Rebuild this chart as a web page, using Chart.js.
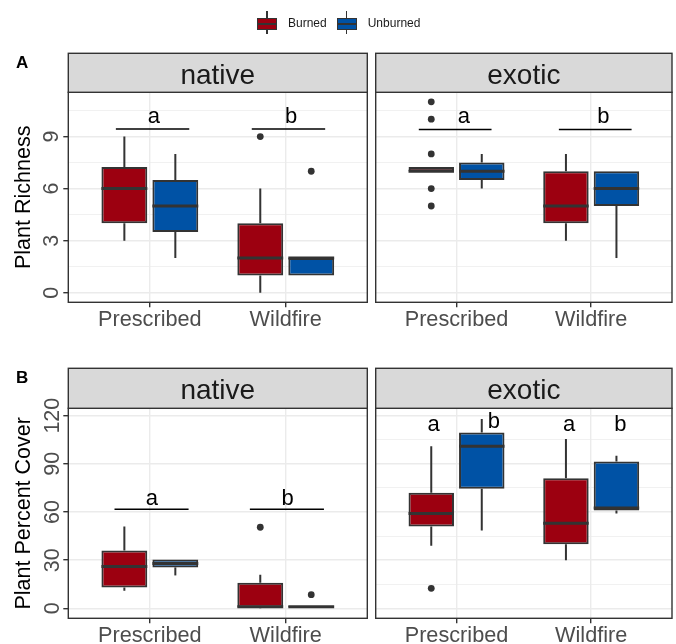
<!DOCTYPE html>
<html>
<head>
<meta charset="utf-8">
<script src="https://cdn.jsdelivr.net/npm/chart.js@4.4.1/dist/chart.umd.min.js"></script>
<style>
  body { margin: 0; background: #fff; font-family: 'Liberation Sans', Arial, sans-serif; }
  #wrap { position: relative; width: 676px; height: 644px; overflow: hidden; background: #fff; }
  #wrap canvas { position: absolute; left: 0; top: 0; }
  .tag { position: absolute; font-weight: bold; font-size: 17px; line-height: 1; color: #000; }
  #legend { position: absolute; top: 11px; left: 257px; height: 23px; display: flex; align-items: center; font-size: 12px; color: #1a1a1a; }
  .key { position: relative; width: 20px; height: 23px; margin-right: 11px; }
  .key .wh { position: absolute; left: 9.3px; top: 0; width: 1.4px; height: 23px; background: #333; }
  .key .bx { position: absolute; left: 0; top: 6.5px; width: 20px; height: 12.5px; box-sizing: border-box; border: 1.4px solid #333; }
  .key .md { position: absolute; left: 0; top: 11.5px; width: 20px; height: 2.5px; background: #333; }
  .lab { margin-right: 10px; }
</style>
</head>
<body>
<div id="wrap">
  <canvas id="pA1" width="676" height="644"></canvas>
  <canvas id="pA2" width="676" height="644"></canvas>
  <canvas id="pB1" width="676" height="644"></canvas>
  <canvas id="pB2" width="676" height="644"></canvas>
  <div class="tag" style="left:16px; top:54px;">A</div>
  <div class="tag" style="left:16px; top:369px;">B</div>
  <div id="legend">
    <div class="key"><div class="wh"></div><div class="bx" style="background:#9C0010"></div><div class="md"></div></div>
    <span class="lab">Burned</span>
    <div class="key"><div class="wh"></div><div class="bx" style="background:#0052A5"></div><div class="md"></div></div>
    <span class="lab">Unburned</span>
  </div>
</div>
<script>
const groups = ['Prescribed', 'Wildfire'];

// box summaries per group: [lower whisker, Q1, median, Q3, upper whisker]
const richNativeBurned = [[3, 4, 6, 7.25, 9], [0, 1, 2, 4, 6]];
const richNativeUnburned = [[2, 3.5, 5, 6.5, 8], [1, 1, 2, 2, 2]];
const richExoticBurned = [[7, 7, 7, 7.25, 7.25], [3, 4, 5, 7, 8]];
const richExoticUnburned = [[6, 6.5, 7, 7.5, 8], [2, 5, 6, 7, 7]];
const coverNativeBurned = [[11, 13, 26, 36, 51], [0, 0.5, 1, 16, 21]];
const coverNativeUnburned = [[20.5, 25.5, 28, 30.5, 30.5], [0.5, 0.8, 1, 1.5, 1.5]];
const coverExoticBurned = [[39, 51, 59, 72, 101], [30, 40, 53, 81, 105.5]];
const coverExoticUnburned = [[48.5, 74.5, 101, 109.5, 118], [59, 61, 62.5, 91.5, 95]];

// outliers: [group index, value]
const richNativeBurnedOut = [[1, 9]];
const richNativeUnburnedOut = [[1, 7]];
const richExoticBurnedOut = [[0, 11], [0, 10], [0, 8], [0, 6], [0, 5]];
const richExoticUnburnedOut = [];
const coverNativeBurnedOut = [[1, 50.5]];
const coverNativeUnburnedOut = [[1, 8.5]];
const coverExoticBurnedOut = [[0, 12.5]];
const coverExoticUnburnedOut = [];

// significance letters
const richNativeLetters = ['a', 'b'];
const richExoticLetters = ['a', 'b'];
const coverNativeLetters = ['a', 'b'];
const coverExoticLetters = ['a', 'b', 'a', 'b'];

const richTicks = [0, 3, 6, 9];
const richMinor = [1.5, 4.5, 7.5, 10.5];
const coverTicks = [0, 30, 60, 90, 120];
const coverMinor = [15, 45, 75, 105];

const RED = '#9C0010';
const BLUE = '#0052A5';
const DARK = '#333333';
const GRID = '#EBEBEB';
const FONT = "'Liberation Sans', Arial, sans-serif";
const DODGE = 0.75 / 4; // half of the dodge offset used for two boxes

const panels = [
    {
        canvas: 'pA1', left: 68.3, right: 367.3, top: 92.3, bottom: 302.3, stripTop: 53.3,
        strip: 'native', yTitle: 'Plant Richness', yMin: -0.55, yMax: 11.55,
        ticks: richTicks, minor: richMinor, tickPad: 5,
        burned: richNativeBurned, unburned: richNativeUnburned,
        burnedOut: richNativeBurnedOut, unburnedOut: richNativeUnburnedOut,
        letters: richNativeLetters,
        letterAt: [[1.03, 9.8], [2.04, 9.8]],
        lines: [[0.75, 1.29, 9.43], [1.75, 2.29, 9.43]],
    },
    {
        canvas: 'pA2', left: 375.7, right: 673, top: 92.3, bottom: 302.3, stripTop: 53.3,
        strip: 'exotic', yTitle: null, yMin: -0.55, yMax: 11.55,
        ticks: richTicks, minor: richMinor,
        burned: richExoticBurned, unburned: richExoticUnburned,
        burnedOut: richExoticBurnedOut, unburnedOut: richExoticUnburnedOut,
        letters: richExoticLetters,
        letterAt: [[1.055, 9.8], [2.09, 9.8]],
        lines: [[0.72, 1.26, 9.4], [1.76, 2.3, 9.4]],
    },
    {
        canvas: 'pB1', left: 68.3, right: 367.3, top: 408.3, bottom: 618.3, stripTop: 368.3,
        strip: 'native', yTitle: 'Plant Percent Cover', yMin: -6.2, yMax: 124.6,
        ticks: coverTicks, minor: coverMinor, tickPad: -7.8,
        burned: coverNativeBurned, unburned: coverNativeUnburned,
        burnedOut: coverNativeBurnedOut, unburnedOut: coverNativeUnburnedOut,
        letters: coverNativeLetters,
        letterAt: [[1.015, 64.5], [2.013, 64.5]],
        lines: [[0.74, 1.285, 61.8], [1.736, 2.281, 61.8]],
    },
    {
        canvas: 'pB2', left: 375.7, right: 673, top: 408.3, bottom: 618.3, stripTop: 368.3,
        strip: 'exotic', yTitle: null, yMin: -6.2, yMax: 124.6,
        ticks: coverTicks, minor: coverMinor,
        burned: coverExoticBurned, unburned: coverExoticUnburned,
        burnedOut: coverExoticBurnedOut, unburnedOut: coverExoticUnburnedOut,
        letters: coverExoticLetters,
        letterAt: [[0.83, 110.2], [1.277, 112.3], [1.836, 110.2], [2.217, 110.2]],
        lines: [],
    },
];

function boxDataset(label, stats, colour) {
    return {
        type: 'bar',
        label: label,
        data: stats.map((s, i) => ({ x: i + 1, y: [s[1], s[3]] })),
        stats: stats,
        backgroundColor: colour,
        borderColor: DARK,
        borderWidth: 2,
        borderSkipped: false,
        categoryPercentage: 0.75,
        barPercentage: 0.9,
        order: 2,
    };
}

function outlierDataset(points, side) {
    return {
        type: 'scatter',
        data: points.map((p) => ({ x: p[0] + 1 + side * DODGE, y: p[1] })),
        pointRadius: 3.4,
        pointBackgroundColor: DARK,
        pointBorderWidth: 0,
        order: 1,
    };
}

/**
 * Whiskers, medians, significance marks, panel border and facet strip
 */
function panelDeco(p) {
    const eachBox = (chart, fn) => {
        chart.data.datasets.forEach((ds, di) => {
            if (!ds.stats) return;
            chart.getDatasetMeta(di).data.forEach((bar, i) => fn(bar, ds.stats[i]));
        });
    };
    return {
        id: 'panelDeco',
        beforeDatasetsDraw(chart) {
            const ctx = chart.ctx;
            const y = chart.scales.y;
            ctx.save();
            ctx.strokeStyle = DARK;
            ctx.lineWidth = 2;
            eachBox(chart, (bar, s) => {
                ctx.beginPath();
                ctx.moveTo(bar.x, y.getPixelForValue(s[0]));
                ctx.lineTo(bar.x, y.getPixelForValue(s[1]));
                ctx.moveTo(bar.x, y.getPixelForValue(s[3]));
                ctx.lineTo(bar.x, y.getPixelForValue(s[4]));
                ctx.stroke();
            });
            ctx.restore();
        },
        afterDatasetsDraw(chart) {
            const ctx = chart.ctx;
            const x = chart.scales.x;
            const y = chart.scales.y;
            ctx.save();
            ctx.strokeStyle = DARK;
            ctx.lineWidth = 3;
            eachBox(chart, (bar, s) => {
                const ym = y.getPixelForValue(s[2]);
                ctx.beginPath();
                ctx.moveTo(bar.x - bar.width / 2, ym);
                ctx.lineTo(bar.x + bar.width / 2, ym);
                ctx.stroke();
            });
            // significance lines and letters
            ctx.strokeStyle = '#000';
            ctx.lineWidth = 1.5;
            p.lines.forEach((l) => {
                const yy = y.getPixelForValue(l[2]);
                ctx.beginPath();
                ctx.moveTo(x.getPixelForValue(l[0]), yy);
                ctx.lineTo(x.getPixelForValue(l[1]), yy);
                ctx.stroke();
            });
            ctx.fillStyle = '#000';
            ctx.font = '22px ' + FONT;
            ctx.textAlign = 'center';
            ctx.textBaseline = 'alphabetic';
            p.letters.forEach((t, i) => {
                const at = p.letterAt[i];
                ctx.fillText(t, x.getPixelForValue(at[0]), y.getPixelForValue(at[1]));
            });
            ctx.restore();
        },
        afterDraw(chart) {
            const ctx = chart.ctx;
            const a = chart.chartArea;
            ctx.save();
            ctx.strokeStyle = DARK;
            ctx.lineWidth = 1.4;
            ctx.strokeRect(a.left, a.top, a.right - a.left, a.bottom - a.top);
            // facet strip
            ctx.fillStyle = '#D9D9D9';
            ctx.fillRect(a.left, p.stripTop, a.right - a.left, a.top - p.stripTop);
            ctx.strokeRect(a.left, p.stripTop, a.right - a.left, a.top - p.stripTop);
            ctx.fillStyle = '#1A1A1A';
            ctx.font = '28px ' + FONT;
            ctx.textAlign = 'center';
            ctx.textBaseline = 'alphabetic';
            ctx.fillText(p.strip, (a.left + a.right) / 2, p.stripTop + 31);
            ctx.restore();
        },
    };
}

function makePanel(p) {
    const hasY = !!p.yTitle;
    const yW = hasY ? p.left : 0;
    const xH = Math.min(40, 644 - p.bottom);
    const allY = p.ticks.concat(p.minor).sort((m, n) => m - n);
    const isMinor = (ctx) => ctx.tick && p.minor.includes(ctx.tick.value);

    return new Chart(document.getElementById(p.canvas), {
        type: 'bar',
        data: {
            datasets: [
                boxDataset('Burned', p.burned, RED),
                boxDataset('Unburned', p.unburned, BLUE),
                outlierDataset(p.burnedOut, -1),
                outlierDataset(p.unburnedOut, 1),
            ],
        },
        options: {
            responsive: false,
            animation: false,
            devicePixelRatio: 1,
            events: [],
            layout: {
                padding: {
                    left: p.left - yW,
                    right: 676 - p.right,
                    top: p.top,
                    bottom: 644 - p.bottom - xH,
                },
            },
            plugins: {
                legend: { display: false },
                tooltip: { enabled: false },
            },
            scales: {
                x: {
                    type: 'linear',
                    min: 0.4,
                    max: 2.6,
                    offset: false,
                    afterBuildTicks: (s) => {
                        s.ticks = groups.map((g, i) => ({ value: i + 1 }));
                    },
                    afterFit: (s) => {
                        s.height = xH;
                    },
                    border: { display: false },
                    grid: {
                        offset: false,
                        color: GRID,
                        lineWidth: 1.4,
                        tickLength: 5,
                        tickColor: DARK,
                        tickWidth: 1.4,
                    },
                    ticks: {
                        autoSkip: false,
                        maxRotation: 0,
                        padding: 0,
                        color: '#4D4D4D',
                        font: { family: FONT, size: 21.7 },
                        callback: (v) => groups[Math.round(v) - 1],
                    },
                },
                y: {
                    type: 'linear',
                    min: p.yMin,
                    max: p.yMax,
                    afterBuildTicks: (s) => {
                        s.ticks = allY.map((v) => ({ value: v }));
                    },
                    afterFit: (s) => {
                        s.width = yW;
                    },
                    border: { display: false },
                    grid: {
                        color: GRID,
                        lineWidth: (ctx) => (isMinor(ctx) ? 0.7 : 1.4),
                        drawTicks: hasY,
                        tickLength: 5,
                        tickColor: (ctx) => (isMinor(ctx) ? 'rgba(0,0,0,0)' : DARK),
                        tickWidth: 1.4,
                    },
                    ticks: {
                        display: hasY,
                        minRotation: 90,
                        maxRotation: 90,
                        crossAlign: 'center',
                        padding: p.tickPad || 0,
                        color: '#4D4D4D',
                        font: { family: FONT, size: 21.5 },
                        callback: (v) => (p.ticks.includes(v) ? String(v) : ''),
                    },
                    title: {
                        display: hasY,
                        text: p.yTitle || '',
                        color: '#000',
                        font: { family: FONT, size: 21.5 },
                        padding: { top: 11.5, bottom: 0 },
                    },
                },
            },
        },
        plugins: [panelDeco(p)],
    });
}

panels.forEach(makePanel);
</script>
</body>
</html>
